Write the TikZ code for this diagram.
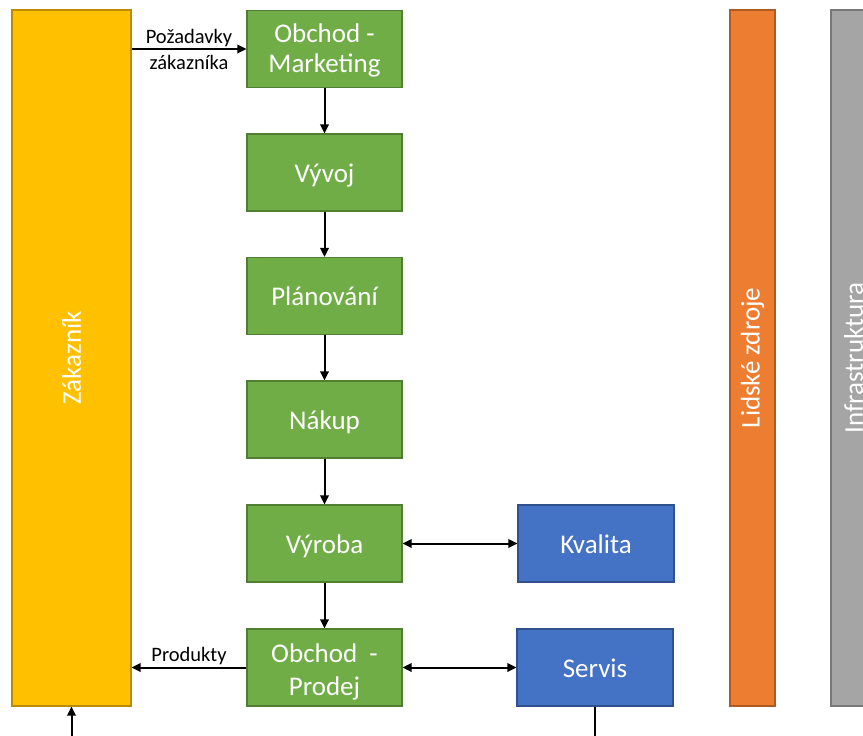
\documentclass[tikz,border=0pt]{standalone}
\usepackage{fontspec}
\setmainfont{Carlito}
\usetikzlibrary{arrows.meta}

\definecolor{greenF}{HTML}{70AD47}
\definecolor{greenD}{HTML}{507E32}
\definecolor{blueF}{HTML}{4472C4}
\definecolor{blueD}{HTML}{2F528F}
\definecolor{yellowF}{HTML}{FFC000}
\definecolor{yellowD}{HTML}{BC8C00}
\definecolor{orangeF}{HTML}{ED7D31}
\definecolor{orangeD}{HTML}{AE5A21}
\definecolor{grayF}{HTML}{A5A5A5}
\definecolor{grayD}{HTML}{787878}

\tikzset{
  box/.style={draw, line width=1.2pt, inner sep=0pt, text=white, align=center,
    font=\fontsize{27}{30}\selectfont},
  oneline/.style={text height=20pt, text depth=1pt},
  dept/.style={box, fill=greenF, draw=greenD, minimum width=155pt, minimum height=77pt},
  support/.style={box, oneline, fill=blueF, draw=blueD, minimum width=156pt, minimum height=77pt},
  bar/.style={box, rotate=90, minimum width=696pt},
  tip/.tip={Triangle[length=9pt,width=8.5pt]},
  arr/.style={line width=2pt, -tip},
  darr/.style={line width=2pt, tip-tip},
  lbl/.style={font=\fontsize{20.5}{26}\selectfont, align=center, inner sep=2pt},
}

\begin{document}
\begin{tikzpicture}[x=1pt, y=-1pt]
\useasboundingbox (0,0) rectangle (863,736);
\clip (0,0) rectangle (863,736);

% customer and the two side columns (rotated: south = right side, west = bottom)
\node[bar, fill=yellowF, draw=yellowD, minimum height=119pt] (zak) at (71.5,358) {Zákazník};
\node[bar, fill=orangeF, draw=orangeD, minimum height=45pt] (lz) at (752.5,358) {Lidské zdroje};
\node[bar, fill=grayF, draw=grayD, minimum height=45pt] (inf) at (853.5,358) {Infrastruktura};

% main process chain
\node[dept, text height=49pt, text depth=3pt] (mk) at (324.5,49) {Obchod -\\Marketing};
\node[dept, oneline] (vyv) at (324.5,172.5) {Vývoj};
\node[dept, oneline] (plan) at (324.5,296) {Plánování};
\node[dept, oneline] (nak) at (324.5,419.5) {Nákup};
\node[dept, oneline] (vyr) at (324.5,543.5) {Výroba};
\node[dept, font=\fontsize{27}{33}\selectfont, text height=55pt, text depth=0pt]
  (pro) at (324.5,667.5) {Obchod\ \ -\\Prodej};

% supporting processes
\node[support] (kva) at (596,543.5) {Kvalita};
\node[support] (ser) at (595,667.5) {Servis};

% loose ends below the picture edge
\coordinate (serEnd) at (595,740);
\coordinate (zakIn) at (71.5,740);

% connectors
\draw[arr] (zak.south |- mk.west) -- (mk.west)
  node[lbl, midway] (pz) {Požadavky\\zákazníka};
\draw[arr] (mk) -- (vyv);
\draw[arr] (vyv) -- (plan);
\draw[arr] (plan) -- (nak);
\draw[arr] (nak) -- (vyr);
\draw[arr] (vyr) -- (pro);
\draw[darr] (vyr) -- (kva);
\draw[darr] (pro) -- (ser);
\draw[arr] (pro.west) -- (zak.south |- pro.west)
  node[lbl, midway, above=0pt] (prd) {Produkty};
\draw[line width=2pt] (ser.south) -- (serEnd);
\draw[arr] (zakIn) -- (zak.west);
\end{tikzpicture}
\end{document}
